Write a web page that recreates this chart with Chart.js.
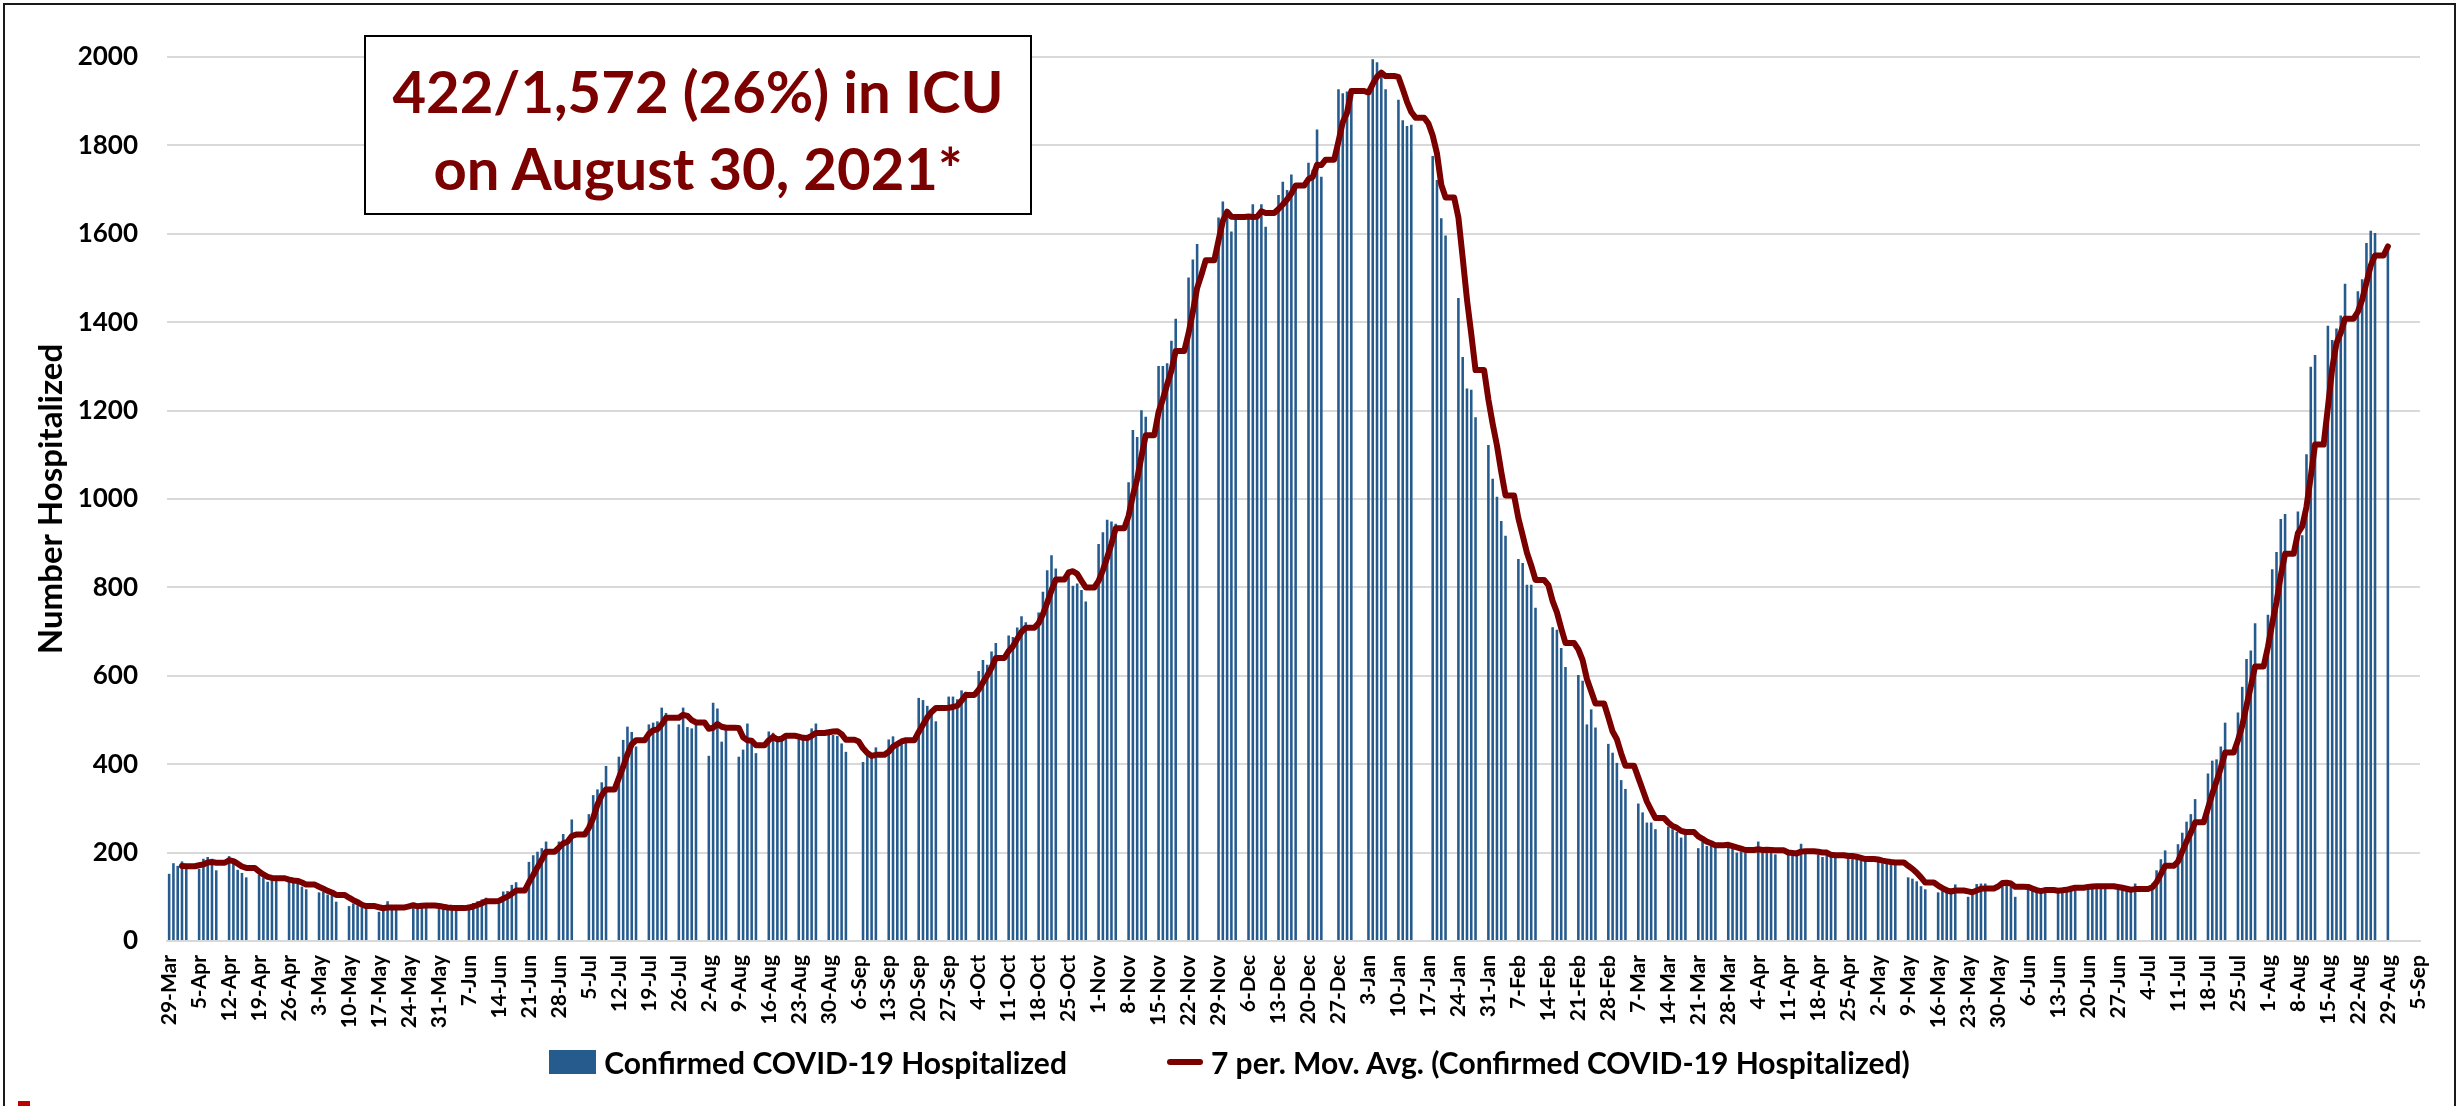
<!DOCTYPE html>
<html>
<head>
<meta charset="utf-8">
<title>Confirmed COVID-19 Hospitalized</title>
<script src="https://cdn.jsdelivr.net/npm/chart.js@4.4.1/dist/chart.umd.min.js"></script>
<style>
    html, body { margin: 0; padding: 0; background: #fff; }
    #frame { position: relative; width: 2459px; height: 1106px; overflow: hidden; font-family: Lato, "Open Sans", sans-serif; }
    #border { position: absolute; left: 3px; top: 3px; right: 3px; bottom: -20px; border: 2px solid #1a1a1a; }
    #chart { position: absolute; left: 0; top: 0; }
    #note { position: absolute; left: 364px; top: 35px; width: 664px; height: 161px; border: 2px solid #000; background: #fff;
            color: #7B0000; font-weight: bold; font-size: 58px; line-height: 77px; text-align: center; padding-top: 15px; box-sizing: content-box; }
    #legend { position: absolute; left: 0; width: 2459px; top: 1042px; height: 40px; display: flex; justify-content: center; align-items: center;
              font-weight: bold; font-size: 30px; color: #000; }
    #legend .item { display: flex; align-items: center; margin: 0 50px; }
    #legend .swatch { margin-right: 8px; }
    #redmark { position: absolute; left: 18px; top: 1101px; width: 12px; height: 6px; background: #c00000; }
</style>
</head>
<body>
<div id="frame">
    <div id="border"></div>
    <canvas id="chart" width="2459" height="1106"></canvas>
    <div id="note">422/1,572 (26%) in ICU<br>on August 30, 2021*</div>
    <div id="legend"></div>
    <div id="redmark"></div>
</div>
<script>
/**
 * Tick labels (one every 7 days, 29-Mar-2020 .. 5-Sep-2021)
 */
const tickLabels = [
    '29-Mar', '5-Apr', '12-Apr', '19-Apr', '26-Apr', '3-May', '10-May', '17-May', '24-May', '31-May',
    '7-Jun', '14-Jun', '21-Jun', '28-Jun', '5-Jul', '12-Jul', '19-Jul', '26-Jul', '2-Aug', '9-Aug',
    '16-Aug', '23-Aug', '30-Aug', '6-Sep', '13-Sep', '20-Sep', '27-Sep', '4-Oct', '11-Oct', '18-Oct',
    '25-Oct', '1-Nov', '8-Nov', '15-Nov', '22-Nov', '29-Nov', '6-Dec', '13-Dec', '20-Dec', '27-Dec',
    '3-Jan', '10-Jan', '17-Jan', '24-Jan', '31-Jan', '7-Feb', '14-Feb', '21-Feb', '28-Feb', '7-Mar',
    '14-Mar', '21-Mar', '28-Mar', '4-Apr', '11-Apr', '18-Apr', '25-Apr', '2-May', '9-May', '16-May',
    '23-May', '30-May', '6-Jun', '13-Jun', '20-Jun', '27-Jun', '4-Jul', '11-Jul', '18-Jul', '25-Jul',
    '1-Aug', '8-Aug', '15-Aug', '22-Aug', '29-Aug', '5-Sep'
];

/**
 * Confirmed hospitalized, one row per week starting on the Sunday of tickLabels (Sun..Thu reported)
 */
const hospitalized2020 = [
    [152, 176, 170, 180, 168], [163, 186, 190, 186, 160], [192, 176, 161, 154, 144], [150, 144, 134, 141, 141],
    [134, 134, 130, 123, 117], [110, 112, 105, 105, 89], [79, 85, 81, 76, 74], [66, 74, 90, 74, 76],
    [null, 84, 80, 79, 78], [76, 74, 73, 74, 75], [82, 86, 90, 94, 98], [85, 112, 113, 127, 133],
    [179, 194, 202, 210, 225], [225, 242, 221, 275, null], [287, 330, 343, 359, 396], [417, 455, 485, 473, 440],
    [490, 494, 497, 528, 516], [490, 528, 484, 481, 489], [419, 539, 526, 451, 477], [417, 433, 492, 447, 425],
    [474, 471, 462, 456, 460], [462, 458, 460, 481, 492], [471, 466, 464, 447, 428], [null, 405, 422, 420, 438],
    [456, 463, 450, 450, 452], [550, 545, 532, 512, 497], [553, 553, 547, 567, 564], [611, 636, 625, 655, 674],
    [691, 688, 709, 735, 721], [743, 790, 839, 873, 843], [824, 804, 809, 794, 768], [898, 925, 953, 949, 944],
    [1038, 1156, 1140, 1201, 1186], [1301, 1301, 1307, 1358, 1408], [1501, 1542, 1577, null, null], [1637, 1673, 1640, 1605, 1635],
    [1643, 1667, 1643, 1667, 1616], [1688, 1718, 1699, 1734, 1706], [1761, 1745, 1836, 1729, null], [1927, 1918, 1922, 1925, null]
];

const hospitalized2021 = [
    [1913, 1995, 1988, 1962, 1927], [1903, 1857, 1844, 1847, null], [null, 1776, 1722, 1635, 1596], [1455, 1321, 1250, 1247, 1185],
    [1122, 1046, 1005, 950, 917], [864, 855, 806, 806, 754], [null, 710, 704, 663, 620], [602, 589, 490, 524, 483],
    [446, 426, 403, 364, 344], [311, 291, 268, 268, 253], [259, 253, 247, 234, 240], [210, 225, 215, 216, 216],
    [216, 211, 200, 203, 199], [225, 203, 202, 200, 196], [200, 198, 197, 220, 200], [195, 190, 195, 195, 195],
    [187, 189, 187, 183, 181], [182, 176, 179, 176, 176], [144, 141, 135, 124, 117], [110, 113, 110, 110, 128],
    [100, 104, 129, 130, 130], [null, 135, 132, 123, 100], [122, 116, 114, 112, 112], [115, 120, 120, 124, 124],
    [124, 124, 124, 124, 123], [116, 115, 113, 113, 130], [null, 130, 160, 185, 205], [219, 245, 270, 287, 321],
    [379, 408, 411, 440, 494], [517, 575, 638, 657, 719], [738, 841, 880, 955, 966], [972, 918, 1101, 1299, 1326],
    [1392, 1360, 1386, 1415, 1487], [1470, 1497, 1579, 1607, 1602], [1572]
];

/**
 * Moving average settings
 */
const avgPeriod = 7;
const avgFirstDay = 3;

/**
 * Daily series (Fri/Sat not reported)
 */
const daily = [];
hospitalized2020.concat(hospitalized2021).forEach(function (week) {
    for (let d = 0; d < 7; d++) {
        daily.push(d < week.length ? week[d] : null);
    }
});
const dayCount = (tickLabels.length - 1) * 7 + 1;
daily.length = dayCount;
for (let i = 0; i < dayCount; i++) {
    if (daily[i] === undefined) daily[i] = null;
}
const lastDay = daily.reduce(function (last, v, i) { return v !== null ? i : last; }, 0);

/**
 * Categories
 */
const labels = daily.map(function (v, i) { return i % 7 === 0 ? tickLabels[i / 7] : ''; });

/**
 * 7 per. moving average over the days in the window that have a value
 */
const movingAvg = daily.map(function (v, i) {
    if (i < avgFirstDay || i > lastDay) return null;
    const win = daily.slice(Math.max(0, i - avgPeriod + 1), i + 1).filter(function (x) { return x !== null; });
    return win.length ? win.reduce(function (a, b) { return a + b; }, 0) / win.length : null;
});

/**
 * Chart
 */
const chart = new Chart(document.getElementById('chart'), {
    type: 'bar',
    data: {
        labels: labels,
        datasets: [
            {
                type: 'line',
                label: '7 per. Mov. Avg. (Confirmed COVID-19 Hospitalized)',
                data: movingAvg,
                borderColor: '#7A0000',
                borderWidth: 6,
                pointRadius: 0,
                tension: 0,
                borderJoinStyle: 'round',
                borderCapStyle: 'round',
                order: 0
            },
            {
                label: 'Confirmed COVID-19 Hospitalized',
                data: daily,
                backgroundColor: '#265B8E',
                barPercentage: 0.6,
                categoryPercentage: 1,
                order: 1
            }
        ]
    },
    options: {
        responsive: false,
        animation: false,
        devicePixelRatio: 1,
        layout: { padding: { left: 0, right: 39, top: 57, bottom: 75 } },
        plugins: {
            legend: { display: false },
            tooltip: { enabled: true }
        },
        scales: {
            x: {
                grid: { display: false },
                border: { display: true, color: '#D9D9D9', width: 2 },
                ticks: {
                    autoSkip: false,
                    minRotation: 90,
                    maxRotation: 90,
                    padding: 6,
                    color: '#000',
                    font: { family: 'Lato', weight: 'bold', size: 21 }
                },
                afterFit: function (scale) { scale.height = 90; }
            },
            y: {
                min: 0,
                max: 2000,
                grid: { color: '#D9D9D9', lineWidth: 2, drawTicks: false },
                border: { display: false },
                ticks: {
                    stepSize: 200,
                    padding: 29,
                    color: '#000',
                    font: { family: 'Lato', weight: 'bold', size: 26 },
                    callback: function (value) { return String(value); }
                },
                title: {
                    display: true,
                    text: 'Number Hospitalized',
                    color: '#000',
                    padding: { top: 32, bottom: 0 },
                    font: { family: 'Lato', weight: 'bold', size: 33 }
                },
                afterFit: function (scale) { scale.width = 167; }
            }
        }
    }
});

/**
 * Legend (bars first, then the average)
 */
const legend = document.getElementById('legend');
[chart.data.datasets[1], chart.data.datasets[0]].forEach(function (ds) {
    const item = document.createElement('div');
    item.className = 'item';
    const sw = document.createElement('span');
    sw.className = 'swatch';
    if (ds.type === 'line') {
        sw.style.cssText = 'display:inline-block;width:36px;height:6px;border-radius:3px;background:' + ds.borderColor;
    } else {
        sw.style.cssText = 'display:inline-block;width:47px;height:24px;background:' + ds.backgroundColor;
    }
    const txt = document.createElement('span');
    txt.textContent = ds.label;
    item.appendChild(sw);
    item.appendChild(txt);
    legend.appendChild(item);
});
</script>
</body>
</html>
